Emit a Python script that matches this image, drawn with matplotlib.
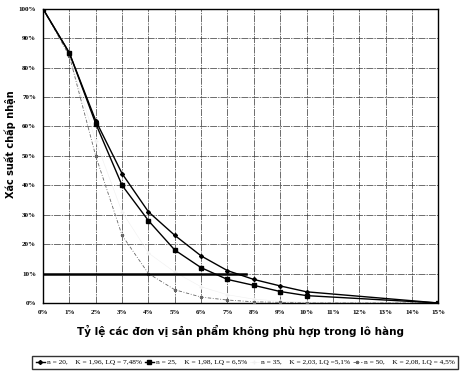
import matplotlib
matplotlib.use("Agg")
import matplotlib.pyplot as plt

# Ty le khong phu hop (%) va xac suat chap nhan (%)
defectRate = [0, 1, 2, 3, 4, 5, 6, 7, 8, 9, 10, 15]
acceptN20 = [100, 85, 62, 44, 31, 23, 16, 11, 8, 5.8, 3.8, 0]
acceptN25 = [100, 85, 61, 40, 28, 18, 12, 8, 6, 3.9, 2.5, 0]
acceptN35 = [100, 84, 55, 31, 17, 10.5, 5.5, 2.8, 1.3, 0.6, 0.2, 0]
acceptN50 = [100, 84, 50, 23, 10, 4.5, 2, 1, 0.4, 0.2, 0, 0]

limitX = [0, 7.7]
limitY = [10, 10]

legendLabels = [
    "n = 20,    K = 1,96, LQ = 7,48%",
    "n = 25,    K = 1,98, LQ = 6,5%",
    "n = 35,    K = 2,03, LQ =5,1%",
    "n = 50,    K = 2,08, LQ = 4,5%",
]

xTicks = list(range(0, 16))
yTicks = list(range(0, 101, 10))

fig = plt.figure(figsize=(4.7, 3.84), dpi=100)
ax = fig.add_axes([0.0915, 0.211, 0.841, 0.766])

ax.plot(defectRate, acceptN20, color="black", lw=1.0, marker="D", ms=2.0,
        label=legendLabels[0], zorder=4)
ax.plot(defectRate, acceptN25, color="black", lw=1.0, marker="s", ms=2.4,
        label=legendLabels[1], zorder=4)
ax.plot(defectRate, acceptN35, color="#f0f0f0", lw=0.4, marker="+", ms=2.5,
        label=legendLabels[2], zorder=2)
ax.plot(defectRate, acceptN50, color="#666666", lw=0.6, ls=(0, (4, 2, 1, 2)),
        marker="*", ms=2.2, label=legendLabels[3], zorder=3)

ax.plot(limitX, limitY, color="black", lw=1.8, zorder=5)

ax.set_xlim(0, 15)
ax.set_ylim(0, 100)
ax.set_xticks(xTicks)
ax.set_xticklabels([f"{v}%" for v in xTicks])
ax.set_yticks(yTicks)
ax.set_yticklabels([f"{v}%" for v in yTicks])
ax.tick_params(length=0, labelsize=5, pad=5)
for lbl in ax.get_xticklabels() + ax.get_yticklabels():
    lbl.set_family("Liberation Serif")
    lbl.set_fontweight("bold")

ax.grid(True, color="#333333", lw=0.5, ls=(0, (10, 1.5, 2, 1.5)))
for spine in ax.spines.values():
    spine.set_linewidth(1.0)

ax.set_xlabel("Tỷ lệ các đơn vị sản phẩm không phù hợp trong lô hàng",
              fontsize=7.5, fontweight="bold", labelpad=7)
ax.set_ylabel("Xác suất chấp nhận", fontsize=7, fontweight="bold")
ax.yaxis.set_label_coords(-0.068, 0.54)

leg = fig.legend(loc="center", bbox_to_anchor=(0.522, 0.057), ncol=4,
                 frameon=True, fancybox=False, edgecolor="black",
                 handlelength=1.2, handletextpad=0.3, columnspacing=0.4,
                 borderpad=0.45, borderaxespad=0.2,
                 prop={"family": "Liberation Serif", "size": 5.3})
leg.get_frame().set_linewidth(1.0)

fig.savefig("out.png", dpi=100)
